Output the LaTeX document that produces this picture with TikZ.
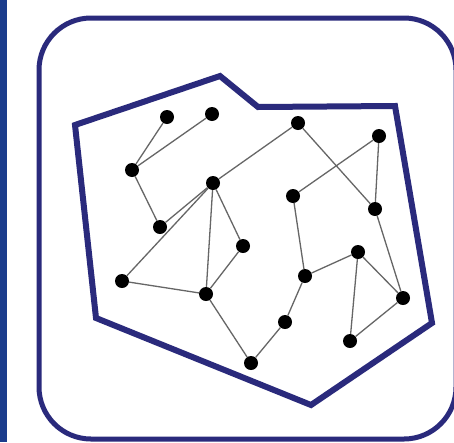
\documentclass[tikz,border=0pt]{standalone}
\definecolor{navy}{HTML}{2A2A7C}
\definecolor{stripblue}{HTML}{1B3C8C}
\begin{document}
\begin{tikzpicture}[x=1pt,y=-1pt,
  dot/.style={circle,fill=black,inner sep=0pt,minimum size=14pt},
  edge/.style={draw=black!60,line width=1.3pt},
  frame/.style={draw=navy,line width=5pt,rounded corners=52pt},
  hull/.style={draw=navy,line width=6pt,line join=miter}]
\useasboundingbox (0,0) rectangle (454,442);
\fill[white] (0,0) rectangle (454,442);
\fill[stripblue] (0,0) rectangle (7,442);
\draw[frame] (39,18) rectangle (456,439);
\draw[hull] (75,125) -- (220,76) -- (258,107) -- (395,106) -- (432,323) -- (311,405) -- (96,318) -- cycle;
% nodes
\node[dot] (A) at (167,117) {};
\node[dot] (B) at (212,114) {};
\node[dot] (C) at (132,170) {};
\node[dot] (D) at (213,183) {};
\node[dot] (E) at (160,227) {};
\node[dot] (F) at (243,246) {};
\node[dot] (G) at (122,281) {};
\node[dot] (H) at (206,294) {};
\node[dot] (I) at (298,123) {};
\node[dot] (J) at (379,136) {};
\node[dot] (K) at (293,196) {};
\node[dot] (L) at (375,209) {};
\node[dot] (M) at (358,252) {};
\node[dot] (N) at (305,276) {};
\node[dot] (O) at (403,298) {};
\node[dot] (P) at (285,322) {};
\node[dot] (Q) at (350,341) {};
\node[dot] (R) at (251,363) {};
% edges
\draw[edge] (A) -- (C);
\draw[edge] (B) -- (C);
\draw[edge] (C) -- (E);
\draw[edge] (E) -- (D);
\draw[edge] (G) -- (D);
\draw[edge] (I) -- (D);
\draw[edge] (D) -- (F);
\draw[edge] (D) -- (H);
\draw[edge] (F) -- (H);
\draw[edge] (G) -- (H);
\draw[edge] (H) -- (R);
\draw[edge] (R) -- (P);
\draw[edge] (P) -- (N);
\draw[edge] (N) -- (K);
\draw[edge] (K) -- (J);
\draw[edge] (I) -- (L);
\draw[edge] (J) -- (L);
\draw[edge] (L) -- (O);
\draw[edge] (N) -- (M);
\draw[edge] (M) -- (O);
\draw[edge] (M) -- (Q);
\draw[edge] (Q) -- (O);
\end{tikzpicture}
\end{document}
